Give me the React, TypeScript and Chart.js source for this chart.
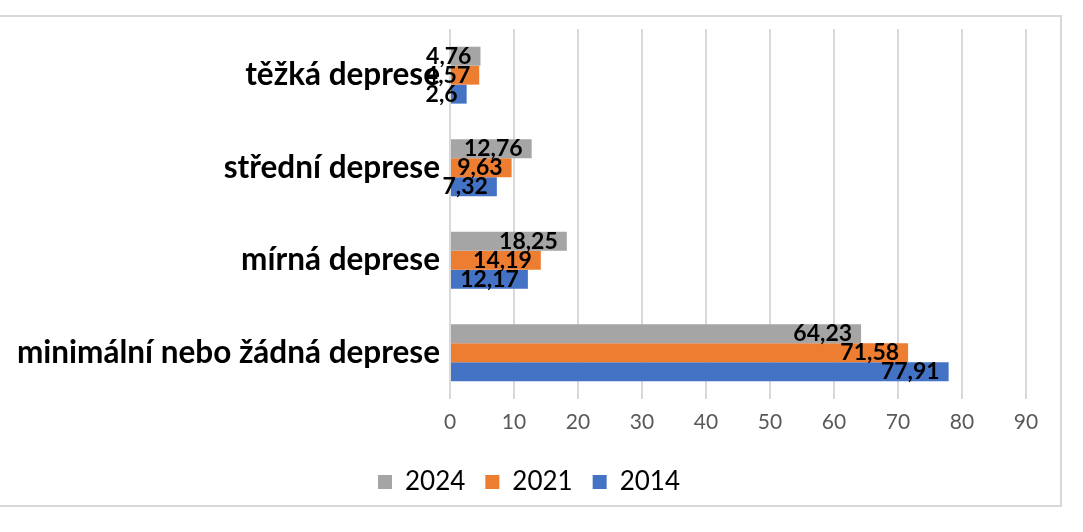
import React, { useEffect, useRef } from "react";
import { Chart, registerables } from "chart.js";

Chart.register(...registerables);

const categories = [
  "těžká deprese",
  "střední deprese",
  "mírná deprese",
  "minimální nebo žádná deprese",
];
const values2024 = [4.76, 12.76, 18.25, 64.23];
const values2021 = [4.57, 9.63, 14.19, 71.58];
const values2014 = [2.6, 7.32, 12.17, 77.91];
const xTicks = [0, 10, 20, 30, 40, 50, 60, 70, 80, 90];

const FONT = "Lato, 'Open Sans', sans-serif";

const labelPlugin = {
  id: "barValueLabels",
  afterDatasetsDraw(chart: any) {
    const ctx = chart.ctx;
    ctx.save();
    ctx.font = `bold 23px ${FONT}`;
    ctx.fillStyle = "#000000";
    ctx.textAlign = "right";
    ctx.textBaseline = "middle";
    chart.data.datasets.forEach((ds: any, di: number) => {
      const meta = chart.getDatasetMeta(di);
      meta.data.forEach((bar: any, i: number) => {
        const v = ds.data[i];
        const txt = String(v).replace(".", ",");
        ctx.fillText(txt, bar.x - 9, bar.y);
      });
    });
    ctx.restore();
  },
};

const legendShift = {
  id: "legendShift",
  afterLayout(chart: any) {
    if (chart.legend) {
      chart.legend.left += 16;
      chart.legend.right += 16;
    }
  },
};

export default function App() {
  const ref = useRef<HTMLCanvasElement | null>(null);
  useEffect(() => {
    if (!ref.current) return;
    const chart = new Chart(ref.current, {
      type: "bar",
      data: {
        labels: categories,
        datasets: [
          { label: "2024", data: values2024, backgroundColor: "#A5A5A5" },
          { label: "2021", data: values2021, backgroundColor: "#ED7D31" },
          { label: "2014", data: values2014, backgroundColor: "#4472C4" },
        ],
      },
      options: {
        indexAxis: "y",
        animation: false,
        responsive: false,
        maintainAspectRatio: false,
        devicePixelRatio: 1,
        datasets: {
          bar: { categoryPercentage: 0.615, barPercentage: 1.0 },
        },
        layout: { padding: { top: 20, right: 57, bottom: 27, left: 0 } },
        scales: {
          x: {
            min: 0,
            max: 90,
            afterBuildTicks: (scale: any) => {
              scale.ticks = xTicks.map((v) => ({ value: v }));
            },
            afterFit: (scale: any) => {
              scale.height = 50;
            },
            grid: { color: "#d9d9d9", lineWidth: 2, drawTicks: false },
            border: { display: false },
            ticks: {
              color: "#595959",
              font: { family: FONT, size: 21 },
              padding: 11,
            },
          },
          y: {
            afterFit: (scale: any) => {
              scale.width = 450;
            },
            grid: { display: false, drawTicks: false },
            border: { display: false },
            ticks: {
              color: "#000000",
              font: { family: FONT, size: 31.5, weight: "bold" },
              padding: 10,
            },
          },
        },
        plugins: {
          legend: {
            position: "bottom",
            labels: {
              boxWidth: 14,
              boxHeight: 14,
              padding: 20,
              color: "#000000",
              font: { family: FONT, size: 26 },
            },
          },
          tooltip: { enabled: false },
        },
      },
      plugins: [labelPlugin, legendShift],
    } as any);
    return () => chart.destroy();
  }, []);

  return (
    <div
      style={{
        position: "fixed",
        left: 0,
        top: 0,
        width: 1083,
        height: 532,
        background: "#ffffff",
        overflow: "hidden",
      }}
    >
      <div
        style={{
          position: "absolute",
          left: -4,
          top: 15,
          width: 1062,
          height: 488,
          border: "2px solid #d9d9d9",
        }}
      />
      <canvas
        ref={ref}
        width={1083}
        height={532}
        style={{ position: "absolute", left: 0, top: 0, width: 1083, height: 532 }}
      />
    </div>
  );
}
